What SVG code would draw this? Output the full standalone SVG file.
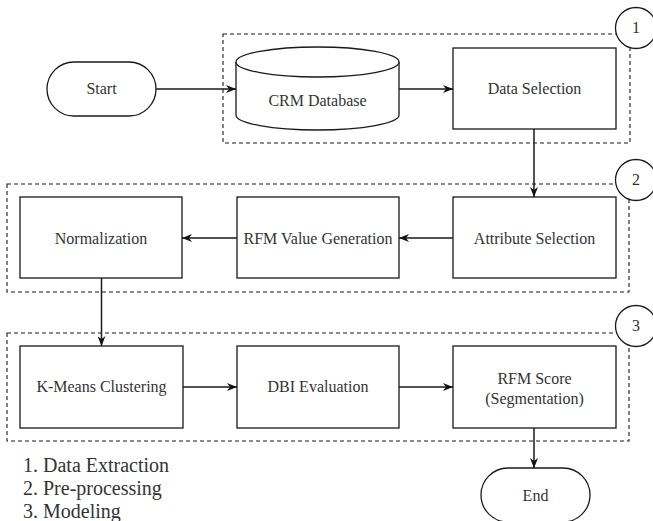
<svg xmlns="http://www.w3.org/2000/svg" width="653" height="521" viewBox="0 0 653 521" font-family="Liberation Serif, serif">
<style>
.n{fill:#fff;stroke:#1a1a1a;stroke-width:1.3}
.g{fill:none;stroke:#1a1a1a;stroke-width:1.1;stroke-dasharray:4 3}
.c{fill:#fff;stroke:#1a1a1a;stroke-width:1.3}
.t{font-size:16px;fill:#333;text-anchor:middle}
.l{font-size:20px;fill:#333}
.e{fill:none;stroke:#1a1a1a;stroke-width:1.5}
</style>
<defs>
<marker id="a" markerWidth="10" markerHeight="8" refX="10" refY="4" orient="auto" markerUnits="userSpaceOnUse">
<path d="M0,0 L10,4 L0,8 L3,4 Z" fill="#111"/>
</marker>
</defs>
<rect width="653" height="521" fill="#fff"/>
<g id="groups">
<g id="group1"><rect class="g" x="223" y="34" width="407" height="109"/><circle class="c" cx="636" cy="28" r="20.5"/><text class="t" x="636" y="33">1</text></g>
<g id="group2"><rect class="g" x="7" y="184" width="622" height="108"/><circle class="c" cx="636" cy="180" r="20.5"/><text class="t" x="636" y="185">2</text></g>
<g id="group3"><rect class="g" x="7" y="333" width="622" height="108"/><circle class="c" cx="636" cy="326" r="20.5"/><text class="t" x="636" y="331">3</text></g>
</g>
<g id="connectors">
<path class="e" d="M156,89 L236,89" marker-end="url(#a)"/>
<path class="e" d="M399,89 L453,89" marker-end="url(#a)"/>
<path class="e" d="M534,129 L534,197" marker-end="url(#a)"/>
<path class="e" d="M453,238 L399,238" marker-end="url(#a)"/>
<path class="e" d="M237,238 L182,238" marker-end="url(#a)"/>
<path class="e" d="M101.5,278 L101.5,346" marker-end="url(#a)"/>
<path class="e" d="M183,387 L237,387" marker-end="url(#a)"/>
<path class="e" d="M399,387 L453,387" marker-end="url(#a)"/>
<path class="e" d="M534,428 L534,468" marker-end="url(#a)"/>
</g>
<g id="start"><rect class="n" x="47" y="62" width="109" height="54" rx="27"/><text class="t" x="101.5" y="94">Start</text></g>
<g id="crm-database"><path class="n" d="M236,62 A81.5,15 0 0,1 399,62 L399,115 A81.5,15 0 0,1 236,115 Z"/><path class="n" fill="none" d="M236,62 A81.5,15 0 0,0 399,62"/><text class="t" x="317.5" y="106">CRM Database</text></g>
<g id="data-selection"><rect class="n" x="453" y="48" width="163" height="81"/><text class="t" x="534.5" y="94">Data Selection</text></g>
<g id="attribute-selection"><rect class="n" x="453" y="197" width="163" height="81"/><text class="t" x="534.5" y="244">Attribute Selection</text></g>
<g id="rfm-value-generation"><rect class="n" x="237" y="197" width="162" height="81"/><text class="t" x="318" y="244">RFM Value Generation</text></g>
<g id="normalization"><rect class="n" x="20" y="197" width="162" height="81"/><text class="t" x="101" y="244">Normalization</text></g>
<g id="k-means"><rect class="n" x="20" y="346" width="163" height="82"/><text class="t" x="101.5" y="392">K-Means Clustering</text></g>
<g id="dbi-evaluation"><rect class="n" x="237" y="346" width="162" height="82"/><text class="t" x="318" y="392">DBI Evaluation</text></g>
<g id="rfm-score"><rect class="n" x="453" y="346" width="163" height="82"/><text class="t" x="534.5" y="384">RFM Score</text><text class="t" x="534.5" y="404">(Segmentation)</text></g>
<g id="end"><rect class="n" x="481" y="468" width="109" height="54" rx="27"/><text class="t" x="535.5" y="501">End</text></g>
<g id="legend">
<text class="l" x="23" y="472">1. Data Extraction</text>
<text class="l" x="23" y="495">2. Pre-processing</text>
<text class="l" x="23" y="518">3. Modeling</text>
</g>
</svg>
